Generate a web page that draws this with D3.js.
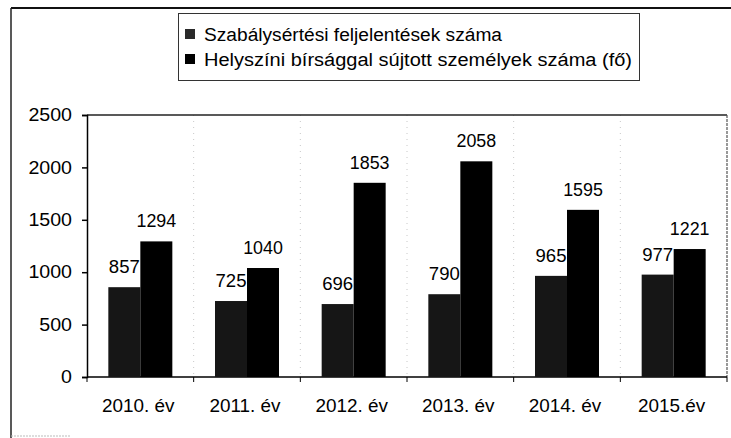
<!DOCTYPE html>
<html><head><meta charset="utf-8">
<script src="https://cdn.jsdelivr.net/npm/d3@7/dist/d3.min.js"></script>
<style>
html,body{margin:0;padding:0;background:#fff;}
svg{display:block;}
text{font-family:"Liberation Sans",Arial,sans-serif;fill:#000;}
</style></head>
<body>
<svg id="chart" width="731" height="438"></svg>
<script>
const categories = ["2010. év","2011. év","2012. év","2013. év","2014. év","2015.év"];
const seriesNames = ["Szabálysértési feljelentések száma","Helyszíni bírsággal sújtott személyek száma (fő)"];
const series1 = [857,725,696,790,965,977];
const series2 = [1294,1040,1853,2058,1595,1221];
const yTicks = [0,500,1000,1500,2000,2500];
const colors = ["#161616","#000000"];

const svg = d3.select("#chart");
const W = 731, H = 438;
const plot = {left:87, right:727, top:115, bottom:377};

function stretch(sel, k){
  sel.each(function(){
    const len = this.getComputedTextLength();
    d3.select(this).attr("textLength", len*k).attr("lengthAdjust","spacingAndGlyphs");
  });
}

// outer frame
svg.append("line").attr("x1",11).attr("x2",W).attr("y1",8).attr("y2",8).attr("stroke","#111").attr("stroke-width",2);
svg.append("line").attr("x1",11).attr("x2",11).attr("y1",8).attr("y2",H).attr("stroke","#222").attr("stroke-width",1.5);
svg.append("line").attr("x1",11).attr("x2",70).attr("y1",436).attr("y2",436).attr("stroke","#bbb").attr("stroke-width",1).attr("stroke-dasharray","2,1");

const x0 = d3.scaleBand().domain(categories).range([plot.left, plot.right]).paddingInner(0.4).paddingOuter(0.2);
const x1 = d3.scaleBand().domain([0,1]).range([0, x0.bandwidth()]);
const y = d3.scaleLinear().domain([0,2500]).range([plot.bottom, plot.top]);

// faint vertical dotted gridlines at category boundaries
const step = x0.step();
const bounds = d3.range(1, categories.length).map(i => plot.left + i*step);
svg.append("g").selectAll("line").data(bounds).join("line")
  .attr("x1",d=>d).attr("x2",d=>d).attr("y1",plot.top).attr("y2",plot.bottom)
  .attr("stroke","#c8c8c8").attr("stroke-width",1).attr("stroke-dasharray","1,5");

// plot border top/right
svg.append("line").attr("x1",plot.left).attr("x2",plot.right).attr("y1",plot.top).attr("y2",plot.top).attr("stroke","#222").attr("stroke-width",1.5);
svg.append("line").attr("x1",plot.right).attr("x2",plot.right).attr("y1",plot.top).attr("y2",plot.bottom).attr("stroke","#555").attr("stroke-width",1.2).attr("stroke-dasharray","3,1");

// y axis
const yAxis = d3.axisLeft(y).tickValues(yTicks).tickSize(5).tickPadding(10).tickFormat(d3.format("d"));
const gy = svg.append("g").attr("transform",`translate(${plot.left},0)`).call(yAxis);
gy.selectAll("path,line").attr("stroke","#000").attr("stroke-width",1.5);
gy.selectAll("text").style("font-size","17.5px").attr("font-family",null).attr("fill","#000");
stretch(gy.selectAll("text"), 1.12);

// x axis baseline and ticks
svg.append("line").attr("x1",plot.left).attr("x2",plot.right).attr("y1",y(0)).attr("y2",y(0)).attr("stroke","#000").attr("stroke-width",1.5);
svg.append("g").selectAll("line").data([plot.left, ...bounds, plot.right]).join("line")
  .attr("x1",d=>d).attr("x2",d=>d).attr("y1",y(0)).attr("y2",y(0)+5).attr("stroke","#000").attr("stroke-width",1);
const xl = svg.append("g").selectAll("text").data(categories).join("text")
  .attr("x",d=>x0(d)+x0.bandwidth()/2 - 2).attr("y",412).attr("text-anchor","middle")
  .style("font-size","17.5px").text(d=>d);
stretch(xl, 1.08);

// series 1 bars + labels
const g1 = svg.append("g");
g1.selectAll("rect").data(series1).join("rect")
  .attr("x",(d,i)=>x0(categories[i])+x1(0)).attr("width",x1.bandwidth())
  .attr("y",d=>y(d)).attr("height",d=>y(0)-y(d)).attr("fill",colors[0]);
const l1 = g1.selectAll("text").data(series1).join("text")
  .attr("x",(d,i)=>x0(categories[i])+x1(0)+x1.bandwidth()/2).attr("y",d=>y(d)-14)
  .attr("text-anchor","middle").style("font-size","17.5px").text(d=>d);
stretch(l1, 1.06);

// series 2 bars + labels
const g2 = svg.append("g");
g2.selectAll("rect").data(series2).join("rect")
  .attr("x",(d,i)=>x0(categories[i])+x1(1)).attr("width",x1.bandwidth())
  .attr("y",d=>y(d)).attr("height",d=>y(0)-y(d)).attr("fill",colors[1]);
const l2 = g2.selectAll("text").data(series2).join("text")
  .attr("x",(d,i)=>x0(categories[i])+x1(1)+x1.bandwidth()/2).attr("y",d=>y(d)-14)
  .attr("text-anchor","middle").style("font-size","17.5px").text(d=>d);
stretch(l2, 1.02);

// legend
const lg = svg.append("g");
lg.append("rect").attr("x",178.5).attr("y",13.5).attr("width",461).attr("height",67)
  .attr("fill","#fff").attr("stroke","#333").attr("stroke-width",1);
const legendWidths = [298, 428];
seriesNames.forEach((name,i)=>{
  const cy = 34 + i*25;
  lg.append("rect").attr("x",185).attr("y",cy-5).attr("width",10).attr("height",10).attr("fill",i===0?"#2a2a2a":colors[i]);
  lg.append("text").attr("x",204).attr("y",cy+6.5).style("font-size","18px")
    .attr("textLength",legendWidths[i]).attr("lengthAdjust","spacingAndGlyphs").text(name);
});
</script>
</body></html>
